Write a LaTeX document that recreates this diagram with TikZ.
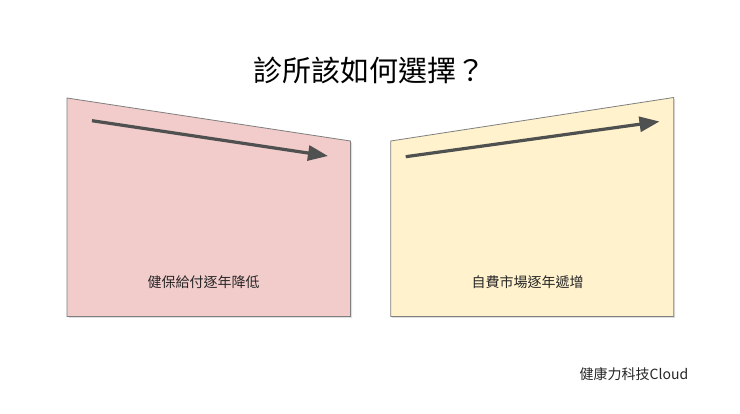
\documentclass[tikz,border=0pt]{standalone}
\usepackage{fontspec}
\setmainfont{Noto Sans CJK TC}
\newfontfamily\cjk{Noto Sans CJK TC}
\usetikzlibrary{shadows,arrows.meta}
\definecolor{pinkfill}{HTML}{F2CBCB}
\definecolor{yellowfill}{HTML}{FFF2CC}
\definecolor{edgegray}{HTML}{7F7F7F}
\definecolor{arrowgray}{HTML}{4F5150}
\definecolor{textgray}{HTML}{262626}
\tikzset{
  panel/.style={draw=edgegray, line width=0.8pt, drop shadow={shadow xshift=1.5pt, shadow yshift=-1.5pt, opacity=0.25}},
  trend/.style={draw=arrowgray, line width=3.2pt, -{Triangle[length=20pt,width=15pt]}},
  label/.style={font=\cjk\fontsize{14}{16}\selectfont, text=textgray},
}
\begin{document}
\begin{tikzpicture}[x=1pt,y=-1pt]
\useasboundingbox (0,0) rectangle (740,414);
\fill[white] (0,0) rectangle (740,414);
\node[font=\cjk\fontsize{29}{32}\selectfont, text=black] (title) at (369,70) {診所該如何選擇？};
% left panel
\path[panel, fill=pinkfill] (67,98) -- (350.5,141) -- (350.5,316.5) -- (67,316.5) -- cycle;
\coordinate (l1) at (92,120.7);
\coordinate (l2) at (328,156);
\draw[trend] (l1) -- (l2);
\node[label] (ltext) at (203.5,282) {健保給付逐年降低};
% right panel
\path[panel, fill=yellowfill] (390.7,141) -- (673.7,97.5) -- (673.7,316.5) -- (390.7,316.5) -- cycle;
\coordinate (r1) at (405.7,156.7);
\coordinate (r2) at (659.5,121.5);
\draw[trend] (r1) -- (r2);
\node[label] (rtext) at (527.5,282) {自費市場逐年遞增};
\node[label, text=textgray] (foot) at (634,374) {健康力科技Cloud};
\end{tikzpicture}
\end{document}
